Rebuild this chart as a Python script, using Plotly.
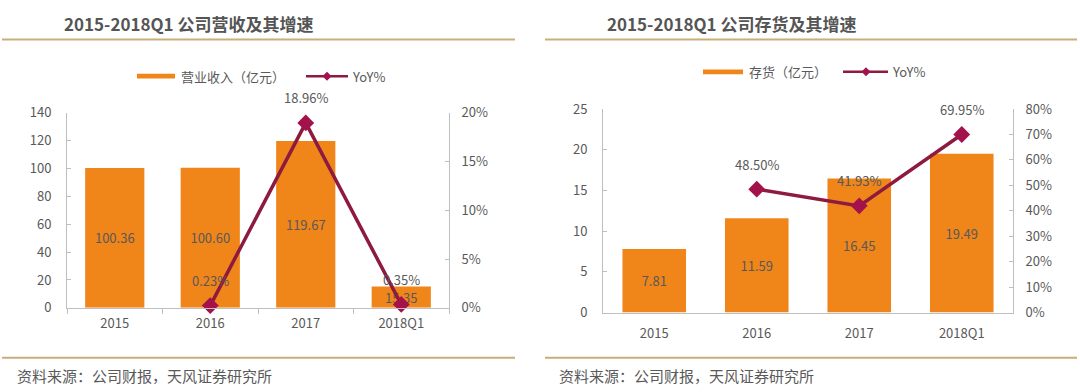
import plotly.graph_objects as go

# ---------------- data ----------------
categories = ["2015", "2016", "2017", "2018Q1"]
revenue = [100.36, 100.60, 119.67, 15.35]          # 营业收入（亿元）
revenue_yoy_cats = ["2016", "2017", "2018Q1"]
revenue_yoy = [0.23, 18.96, 0.35]                  # YoY %
inventory = [7.81, 11.59, 16.45, 19.49]            # 存货（亿元）
inventory_yoy_cats = ["2016", "2017", "2018Q1"]
inventory_yoy = [48.50, 41.93, 69.95]              # YoY %

left_title = "2015-2018Q1 公司营收及其增速"
right_title = "2015-2018Q1 公司存货及其增速"
left_bar_name = "营业收入（亿元）"
right_bar_name = "存货（亿元）"
line_name = "YoY%"
source_text = "资料来源：公司财报，天风证券研究所"

# ---------------- style ----------------
W, H = 1080, 392
FONT = "Noto Sans CJK SC"
TXT = "#595959"
AXIS = "#BFBFBF"
BAR = "#F08519"
LINE = "#8E1B3F"
MARK = "#A3124B"
GOLD = "#C9AD7A"


def px(x):
    return x / W


def py(y):
    return 1 - y / H


fig = go.Figure()

# left chart
fig.add_trace(go.Bar(
    x=categories, y=revenue, xaxis="x", yaxis="y", width=0.62,
    marker=dict(color=BAR, line=dict(width=0)),
    text=[f"{v:.2f}" for v in revenue], textposition="inside",
    insidetextanchor="middle", textfont=dict(family=FONT, size=13, color=TXT),
    constraintext="none", showlegend=False, name=left_bar_name))
fig.add_trace(go.Scatter(
    x=revenue_yoy_cats, y=revenue_yoy, xaxis="x", yaxis="y2",
    mode="lines+markers", line=dict(color=LINE, width=3.5),
    marker=dict(symbol="diamond", size=13, color=MARK),
    cliponaxis=False, showlegend=False, name=line_name))

# right chart
fig.add_trace(go.Bar(
    x=categories, y=inventory, xaxis="x2", yaxis="y3", width=0.62,
    marker=dict(color=BAR, line=dict(width=0)),
    text=[f"{v:.2f}" for v in inventory], textposition="inside",
    insidetextanchor="middle", textfont=dict(family=FONT, size=13, color=TXT),
    constraintext="none", showlegend=False, name=right_bar_name))
fig.add_trace(go.Scatter(
    x=inventory_yoy_cats, y=inventory_yoy, xaxis="x2", yaxis="y4",
    mode="lines+markers", line=dict(color=LINE, width=3.5),
    marker=dict(symbol="diamond", size=13, color=MARK),
    cliponaxis=False, showlegend=False, name=line_name))

tickfont = dict(family=FONT, size=13, color=TXT)
common_y = dict(showgrid=False, zeroline=False, showline=True, linecolor=AXIS,
                linewidth=1, ticks="inside", ticklen=4, tickcolor=AXIS,
                tickfont=tickfont)

fig.update_layout(
    width=W, height=H, margin=dict(l=0, r=0, t=0, b=0),
    paper_bgcolor="white", plot_bgcolor="rgba(0,0,0,0)",
    font=dict(family=FONT, color=TXT),
    showlegend=False,
    xaxis=dict(domain=[px(67), px(449)], anchor="y", type="category",
               categoryorder="array", categoryarray=categories,
               range=[-0.5, 3.5], showgrid=False, showline=True, linecolor=AXIS,
               ticks="outside", tickson="boundaries", ticklen=5, tickcolor=AXIS,
               tickfont=tickfont, ticklabelstandoff=4),
    yaxis=dict(domain=[py(313), py(108)], anchor="x", range=[0, 140], dtick=20,
               ticklabelstandoff=12, **common_y),
    yaxis2=dict(overlaying="y", side="right", anchor="x", range=[0, 20], dtick=5,
                ticksuffix="%", ticklabelstandoff=9, **common_y),
    xaxis2=dict(domain=[px(603), px(1013)], anchor="y3", type="category",
                categoryorder="array", categoryarray=categories,
                range=[-0.5, 3.5], showgrid=False, showline=True, linecolor=AXIS,
                ticks="", tickfont=tickfont, ticklabelstandoff=9),
    yaxis3=dict(domain=[py(318), py(104)], anchor="x2", range=[0, 25], dtick=5,
                ticklabelstandoff=12, **common_y),
    yaxis4=dict(overlaying="y3", side="right", anchor="x2", range=[0, 80], dtick=10,
                ticksuffix="%", ticklabelstandoff=9, **common_y),
)

annotations = []
# YoY labels above points (category positions given by index on the category axis)
for c, v in zip(revenue_yoy_cats, revenue_yoy):
    annotations.append(dict(x=categories.index(c), y=v, xref="x", yref="y2",
                            text=f"{v:.2f}%", showarrow=False, yshift=25,
                            font=dict(family=FONT, size=13, color=TXT)))
for c, v in zip(inventory_yoy_cats, inventory_yoy):
    annotations.append(dict(x=categories.index(c), y=v, xref="x2", yref="y4",
                            text=f"{v:.2f}%", showarrow=False, yshift=25,
                            font=dict(family=FONT, size=13, color=TXT)))

# titles
for x0, t in [(62, left_title), (605, right_title)]:
    annotations.append(dict(x=px(x0), y=py(14), xref="paper", yref="paper",
                            xanchor="left", yanchor="middle", showarrow=False,
                            text=f"<b>{t}</b>",
                            font=dict(family=FONT, size=17, color="#555555")))
# sources
for x0 in [15, 557]:
    annotations.append(dict(x=px(x0), y=py(384), xref="paper", yref="paper",
                            xanchor="left", yanchor="middle", showarrow=False,
                            text=source_text,
                            font=dict(family=FONT, size=15, color=TXT)))

# custom legends
shapes = []
legend_specs = [
    # swatch x0, x1, y center, bar name, text x, line x0, x1, diamond x, yoy text x
    (137, 175, 69.5, left_bar_name, 179, 306, 348, 327, 350),
    (703, 743, 65, right_bar_name, 747, 843, 888, 866, 890),
]
for sx0, sx1, yc, name, tx, lx0, lx1, dx, yx in legend_specs:
    shapes.append(dict(type="rect", xref="paper", yref="paper",
                       x0=px(sx0), x1=px(sx1), y0=py(yc + 2.5), y1=py(yc - 2.5),
                       fillcolor=BAR, line=dict(width=0)))
    annotations.append(dict(x=px(tx), y=py(yc), xref="paper", yref="paper",
                            xanchor="left", yanchor="middle", showarrow=False,
                            text=name, font=dict(family=FONT, size=13, color=TXT)))
    shapes.append(dict(type="line", xref="paper", yref="paper",
                       x0=px(lx0), x1=px(lx1), y0=py(yc), y1=py(yc),
                       line=dict(color=LINE, width=2.5)))
    shapes.append(dict(type="path", xref="paper", yref="paper",
                       xsizemode="pixel", ysizemode="pixel",
                       xanchor=px(dx), yanchor=py(yc),
                       path="M-4.5,0 L0,4.5 L4.5,0 L0,-4.5 Z",
                       fillcolor=MARK, line=dict(width=0)))
    annotations.append(dict(x=px(yx), y=py(yc), xref="paper", yref="paper",
                            xanchor="left", yanchor="middle", showarrow=False,
                            text=line_name, font=dict(family=FONT, size=13, color=TXT)))

# title and footer rules
for x0, x1 in [(2, 515), (545, 1077)]:
    for yy in [31, 365.5]:
        shapes.append(dict(type="line", xref="paper", yref="paper",
                           x0=px(x0), x1=px(x1), y0=py(yy), y1=py(yy),
                           line=dict(color=GOLD, width=2)))

fig.update_layout(annotations=annotations, shapes=shapes)
fig.write_html(
    "out.html",
    config={"displayModeBar": False},
    post_script="document.body.style.margin='0';document.body.style.overflow='hidden';",
)
